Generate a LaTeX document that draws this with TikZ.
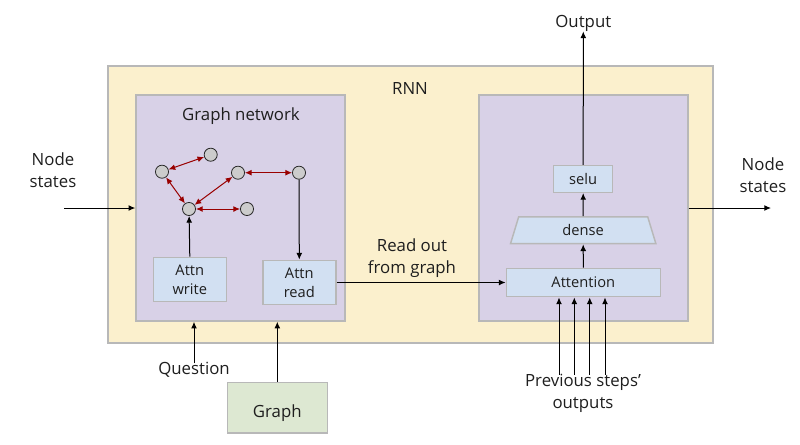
\documentclass[tikz,border=0pt]{standalone}
\usepackage{fontspec}
\setmainfont{Open Sans}
\usetikzlibrary{shapes.geometric,arrows.meta}
\definecolor{ybg}{HTML}{FBF0CD}
\definecolor{pbg}{HTML}{D8D1E7}
\definecolor{bbg}{HTML}{D2E0F2}
\definecolor{gbg}{HTML}{DDE8D2}
\definecolor{bd}{HTML}{B8B8B8}
\definecolor{txt}{HTML}{1E1E1E}
\definecolor{dred}{HTML}{990000}
\definecolor{cfill}{HTML}{CCCCCC}
\tikzset{
  panel/.style={draw=bd,line width=1.1pt,inner sep=0pt,minimum width=#1},
  lbl/.style={text=txt,font=\fontsize{12.6}{16.5}\selectfont,align=center,inner sep=0pt},
  boxlbl/.style={draw=bd,line width=1.1pt,fill=bbg,text=txt,font=\fontsize{11}{14.2}\selectfont,align=center,inner sep=0pt},
  gnode/.style={circle,draw=black!85,fill=cfill,line width=.6pt,minimum size=9.8pt,inner sep=0pt},
  flow/.style={draw=black,line width=.75pt,-{Latex[length=5pt,width=4.4pt]}},
  link/.style={draw=dred,line width=.75pt,{Latex[length=5pt,width=4.4pt]}-{Latex[length=5pt,width=4.4pt]}},
}
\begin{document}
\begin{tikzpicture}[x=.75pt,y=-.75pt]
\useasboundingbox (0,0) rectangle (800,444);
\node[panel=453.75pt,fill=ybg,minimum height=207.75pt] (rnn) at (410.5,204.5) {};
\node[panel=156.75pt,fill=pbg,minimum height=169.5pt] (gn) at (240.5,208) {};
\node[panel=156.75pt,fill=pbg,minimum height=169.5pt] (rn) at (583.5,208) {};
\node[lbl] (rnnt) at (410,88) {RNN};
\node[lbl] (gnt) at (241,116) {Graph network};
\node[gnode] (n1) at (162,171.7) {};
\node[gnode] (n2) at (210.7,154.7) {};
\node[gnode] (n3) at (238,172.7) {};
\node[gnode] (n4) at (299,172.7) {};
\node[gnode] (n5) at (189,209) {};
\node[gnode] (n6) at (247,209) {};
\node[boxlbl,minimum width=54.75pt,minimum height=33.3pt] (write) at (189.8,279.5) {Attn\\write};
\node[boxlbl,minimum width=54.75pt,minimum height=33.3pt] (read) at (299.3,282.5) {Attn\\read};
\node[boxlbl,minimum width=44.25pt,minimum height=20pt] (selu) at (583.2,179) {selu};
\node[boxlbl,shape=trapezium,trapezium stretches=true,trapezium left angle=77,trapezium right angle=77,minimum width=109.3pt,minimum height=20pt] (dense) at (583.2,230.3) {dense};
\node[boxlbl,minimum width=115.5pt,minimum height=21.3pt] (attn) at (583.3,282.5) {Attention};
\node[shape=cylinder,shape border rotate=90,aspect=1.15,draw=bd,line width=1.1pt,fill=gbg,text=txt,font=\fontsize{12.6}{16}\selectfont,minimum width=75pt,minimum height=37.7pt,inner sep=0pt] (graph) at (277.3,408) {};
\node[lbl] (grapht) at (277.3,413) {Graph};
\node[lbl] (lin) at (53,170.5) {Node\\states};
\node[lbl] (lout) at (763,175) {Node\\states};
\node[lbl] (output) at (583.3,23) {Output};
\node[lbl] (readout) at (412,258) {Read out\\from graph};
\node[lbl] (q) at (194,370) {Question};
\node[lbl] (prev) at (583,393) {Previous steps’\\outputs};
\coordinate (inS) at (64,208);
\coordinate (outE) at (771,208);
\draw[flow] (inS) -- (gn.west);
\draw[draw=black,line width=.75pt,-{Latex[length=5pt,width=4.4pt]}] (rn.east) -- (outE);
\draw[flow] (write.north) -- (n5);
\draw[flow] (n4) -- (read.north);
\draw[flow] (read.east) -- (attn.west);
\draw[flow] (attn.north) -- (dense.south);
\draw[flow] (dense.north) -- (selu.south);
\draw[flow] (selu.north) -- (output.south);
\coordinate (qTop) at (q.north);
\draw[flow] ([yshift=-1pt]q.north) -- (q.north |- gn.south);
\draw[flow] (graph.north) -- (graph.north |- gn.south);
\foreach \nm/\dx in {a/-24,b/-8.7,c/6.7,d/22}{
  \coordinate (s\nm) at ([xshift=\dx*.75pt,yshift=-1pt]prev.north);
  \draw[flow] (s\nm) -- (s\nm |- attn.south);
}
\draw[link] (n1) -- (n2);
\draw[link] (n1) -- (n5);
\draw[link] (n3) -- (n5);
\draw[link] (n3) -- (n4);
\draw[link] (n5) -- (n6);
\end{tikzpicture}
\end{document}
